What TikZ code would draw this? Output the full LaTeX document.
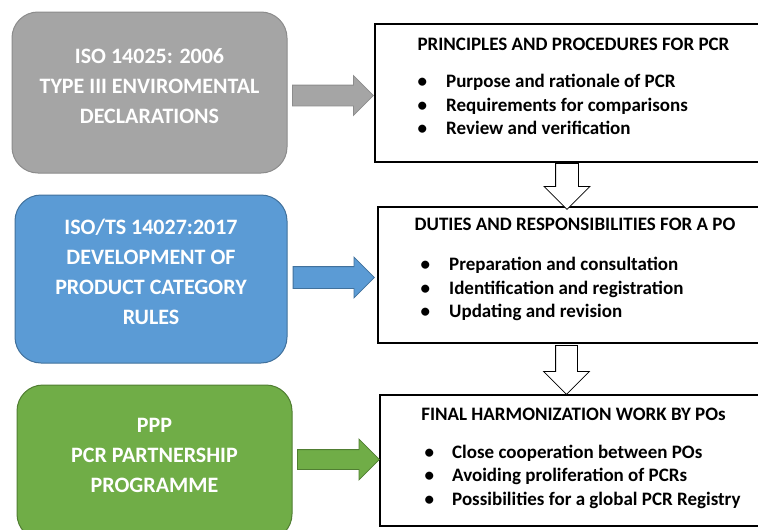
\documentclass[tikz,border=0pt]{standalone}
\usepackage{fontspec}
\setmainfont{Carlito}
\usetikzlibrary{shapes.arrows}

\definecolor{boxgray}{HTML}{A5A5A5}
\definecolor{linegray}{HTML}{8C8C8C}
\definecolor{boxblue}{HTML}{5B9BD5}
\definecolor{lineblue}{HTML}{41719C}
\definecolor{boxgreen}{HTML}{70AD47}
\definecolor{linegreen}{HTML}{507E32}

\begin{document}
\begin{tikzpicture}[x=1pt,y=-1pt]
\tikzset{stdbox/.style = {shape=rectangle,rounded corners=26pt,line width=1pt,inner sep=0pt}}
\tikzset{stdtext/.style = {align=center,text=white,font=\bfseries\fontsize{22}{30}\selectfont,inner sep=0pt}}
\tikzset{pcrbox/.style = {shape=rectangle,draw=black,line width=1.2pt,inner sep=0pt}}
\tikzset{pcrtitle/.style = {font=\bfseries\fontsize{19}{23}\selectfont,inner sep=0pt}}
\tikzset{pcritem/.style = {anchor=base west,font=\bfseries\fontsize{19}{23}\selectfont,inner sep=0pt}}
\tikzset{blockarrow/.style = {shape=single arrow,anchor=tail,minimum width=0pt,line width=0.8pt}}
\tikzset{downarrow/.style = {blockarrow,shape border rotate=270,draw=black,fill=white}}
\clip (0,0) rectangle (758,530);
\fill[white] (0,0) rectangle (758,530);
% standards
\node[stdbox,draw=linegray,fill=boxgray,minimum width=275pt,minimum height=161pt] (iso) at (149.5,92.5) {};
\node[stdtext] (isotext) at (149.5,86) {ISO 14025: 2006\\TYPE III ENVIROMENTAL\\DECLARATIONS};
\node[stdbox,draw=lineblue,fill=boxblue,minimum width=272pt,minimum height=168pt] (ts) at (151,279) {};
\node[stdtext] (tstext) at (151,272) {ISO/TS 14027:2017\\DEVELOPMENT OF\\PRODUCT CATEGORY\\RULES};
\node[stdbox,draw=linegreen,fill=boxgreen,minimum width=275pt,minimum height=155pt] (ppp) at (154.5,462.5) {};
\node[stdtext] (ppptext) at (154.5,455) {PPP\\PCR PARTNERSHIP\\PROGRAMME};
% pcr boxes
\node[pcrbox,minimum width=397pt,minimum height=138pt] (pcr) at (573.5,93) {};
\node[pcrtitle] (pcrhead) at (573.5,44.5) {PRINCIPLES AND PROCEDURES FOR PCR};
\foreach \txt [count=\i] in {Purpose and rationale of PCR,Requirements for comparisons,Review and verification}
  \node[pcritem] (pcr\i) at (417.5,{87.5+23.5*(\i-1)}) {\makebox[28.5pt][l]{\textbullet}\txt};
\node[pcrbox,minimum width=394pt,minimum height=136pt] (po) at (575,275) {};
\node[pcrtitle] (pohead) at (575,224.5) {DUTIES AND RESPONSIBILITIES FOR A PO};
\foreach \txt [count=\i] in {Preparation and consultation,Identification and registration,Updating and revision}
  \node[pcritem] (po\i) at (420.5,{270.5+23.5*(\i-1)}) {\makebox[28.5pt][l]{\textbullet}\txt};
\node[pcrbox,minimum width=392pt,minimum height=131pt] (harm) at (576,460.5) {};
\node[pcrtitle] (harmhead) at (573.5,414.5) {FINAL HARMONIZATION WORK BY POs};
\foreach \txt [count=\i] in {Close cooperation between POs,Avoiding proliferation of PCRs,Possibilities for a global PCR Registry}
  \node[pcritem] (harm\i) at (424.5,{458+23.5*(\i-1)}) {\makebox[27.5pt][l]{\textbullet}\txt};
% arrows
\node[blockarrow,draw=linegray,fill=boxgray,minimum height=81pt,inner sep=10pt,single arrow head extend=9.5pt] (isoarrow) at (292,95.5) {};
\node[blockarrow,draw=lineblue,fill=boxblue,minimum height=81.3pt,inner sep=10.5pt,single arrow head extend=9.5pt] (tsarrow) at (292.7,277.5) {};
\node[blockarrow,draw=linegreen,fill=boxgreen,minimum height=82pt,inner sep=9.5pt,single arrow head extend=10.5pt] (ppparrow) at (297,459.5) {};
\node[downarrow,minimum height=46pt,inner sep=11pt,single arrow head extend=11.5pt] (down1) at (567,163) {};
\node[downarrow,minimum height=49pt,inner sep=10.5pt,single arrow head extend=12pt] (down2) at (566.5,345) {};
\end{tikzpicture}
\end{document}
